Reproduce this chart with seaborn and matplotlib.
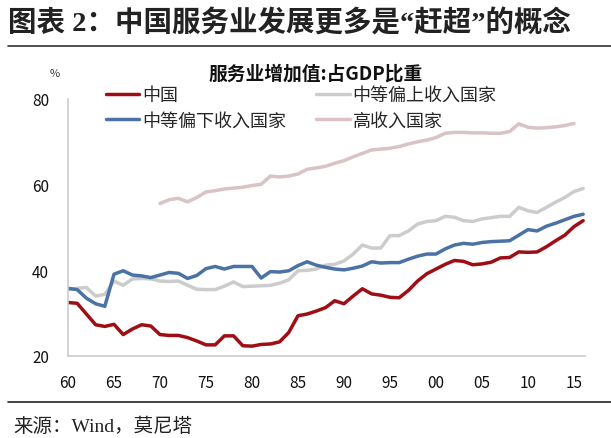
import numpy as np
import pandas as pd
import matplotlib
matplotlib.use("Agg")
import matplotlib.pyplot as plt
import seaborn as sns

years = list(range(1960, 2017))
china = [32.5, 32.3, 29.8, 27.3, 26.9, 27.4, 25.0, 26.3, 27.3, 27.0,
         25.0, 24.8, 24.8, 24.3, 23.5, 22.6, 22.6, 24.7, 24.7, 22.4,
         22.3, 22.7, 22.8, 23.3, 25.5, 29.4, 29.8, 30.5, 31.3, 32.9,
         32.2, 34.0, 35.7, 34.5, 34.2, 33.7, 33.6, 35.3, 37.5, 39.2,
         40.3, 41.4, 42.3, 42.1, 41.3, 41.5, 41.9, 42.9, 43.0, 44.3,
         44.2, 44.3, 45.5, 46.9, 48.2, 50.2, 51.6]
lower_mid = [35.8, 35.5, 33.5, 32.2, 31.6, 39.1, 39.9, 38.9, 38.7, 38.3,
             38.9, 39.5, 39.3, 38.1, 38.8, 40.4, 40.9, 40.3, 40.9, 40.9,
             40.9, 38.2, 39.7, 39.6, 39.9, 41.1, 42.0, 41.2, 40.7, 40.3,
             40.1, 40.5, 41.0, 42.0, 41.7, 41.8, 41.8, 42.6, 43.3, 43.8,
             43.8, 45.0, 45.9, 46.3, 46.1, 46.5, 46.7, 46.8, 46.9, 48.2,
             49.5, 49.2, 50.3, 51.0, 51.8, 52.6, 53.1]
upper_mid = [35.5, 35.8, 36.0, 34.0, 34.4, 37.5, 36.5, 38.0, 38.1, 38.0,
             37.5, 37.4, 37.5, 36.5, 35.6, 35.5, 35.5, 36.3, 37.3, 36.2,
             36.3, 36.4, 36.5, 37.0, 37.8, 39.9, 40.0, 40.3, 41.2, 41.4,
             42.2, 43.8, 45.9, 45.2, 45.2, 48.1, 48.1, 49.2, 50.8, 51.4,
             51.6, 52.6, 52.4, 51.6, 51.4, 52.0, 52.3, 52.6, 52.6, 54.7,
             53.9, 53.5, 54.7, 55.9, 57.0, 58.4, 59.1]
high_years = list(range(1970, 2016))
high = [55.6, 56.5, 56.8, 56.0, 57.0, 58.3, 58.6, 59.0, 59.2, 59.4,
        59.8, 60.1, 62.0, 61.8, 62.0, 62.5, 63.6, 63.9, 64.3, 65.0,
        65.6, 66.5, 67.3, 68.1, 68.3, 68.5, 68.9, 69.5, 70.0, 70.4,
        71.0, 72.0, 72.2, 72.2, 72.1, 72.1, 72.0, 72.0, 72.4, 74.2,
        73.4, 73.2, 73.3, 73.5, 73.8, 74.3]
names = ["中国", "中等偏下收入国家", "中等偏上收入国家", "高收入国家"]
colors = ["#9E0E14", "#4A72A4", "#CCCCCC", "#D9C3C4"]
xticks = list(range(1960, 2016, 5))
xticklabels = ["60", "65", "70", "75", "80", "85", "90", "95", "00", "05", "10", "15"]
yticks = [20, 40, 60, 80]

sns.set_style("white")
plt.rcParams['font.family'] = ['Noto Sans CJK SC', 'DejaVu Sans']

df = pd.concat([
    pd.DataFrame({"year": years, "value": china, "series": names[0]}),
    pd.DataFrame({"year": years, "value": lower_mid, "series": names[1]}),
    pd.DataFrame({"year": years, "value": upper_mid, "series": names[2]}),
    pd.DataFrame({"year": high_years, "value": high, "series": names[3]}),
])

fig = plt.figure(figsize=(6.11, 4.39), dpi=100)
ax = fig.add_axes([68/611, 1-357/439, (585-68)/611, (357-100)/439])

draw_order = [3, 2, 1, 0]
for i in draw_order:
    sub = df[df.series == names[i]]
    sns.lineplot(data=sub, x="year", y="value", ax=ax, color=colors[i],
                 linewidth=2.5, label=names[i], legend=False)

ax.set_xlim(1960, 2016.2)
ax.set_ylim(20, 80)
ax.set_xticks(xticks)
ax.set_xticklabels(xticklabels)
ax.set_yticks(yticks)
ax.set_xlabel("")
ax.set_ylabel("")
ax.tick_params(axis='both', direction='in', length=4, color="#BBBBBB",
               labelsize=11, labelcolor="#111111")
ax.tick_params(axis='y', pad=13.5)
ax.tick_params(axis='x', pad=13)
for s in ["top", "right"]:
    ax.spines[s].set_visible(False)
for s in ["left", "bottom"]:
    ax.spines[s].set_color("#CCCCCC")
    ax.spines[s].set_linewidth(1.2)

handles = {l: h for h, l in zip(*ax.get_legend_handles_labels())}
order = [names[0], names[1], names[2], names[3]]
fig.legend([handles[n] for n in order], order, ncol=2, frameon=False,
           loc='upper left', bbox_to_anchor=(106/611, 1-87/439),
           fontsize=13, handlelength=1.85, handletextpad=0.17,
           columnspacing=1.65, labelspacing=0.42, borderaxespad=0, borderpad=0)

fig.text(316/611, 1-74/439, "服务业增加值:占GDP比重", ha='center', va='center',
         fontsize=13.5, fontweight='bold', color="#111111")
fig.text(55/611, 1-74/439, "%", ha='center', va='center', fontsize=8, color="#333333")

fig.text(8/611, 1-23/439, "图表 2：中国服务业发展更多是“赶超”的概念", ha='left', va='center',
         fontsize=20.5, fontweight='bold', color="#222222",
         family=['Liberation Serif', 'Noto Sans CJK SC'])
fig.add_artist(plt.Line2D([8/611, 1.0], [1-47/439, 1-47/439], color="#333333", linewidth=1.2))
fig.add_artist(plt.Line2D([8/611, 1.0], [1-403/439, 1-403/439], color="#222222", linewidth=1.2))
fig.text(13/611, 1-427/439, "来源：Wind，莫尼塔", ha='left', va='center',
         fontsize=14, color="#222222",
         family=['Liberation Serif', 'Noto Sans CJK SC'])

fig.savefig("out.png", dpi=100)
